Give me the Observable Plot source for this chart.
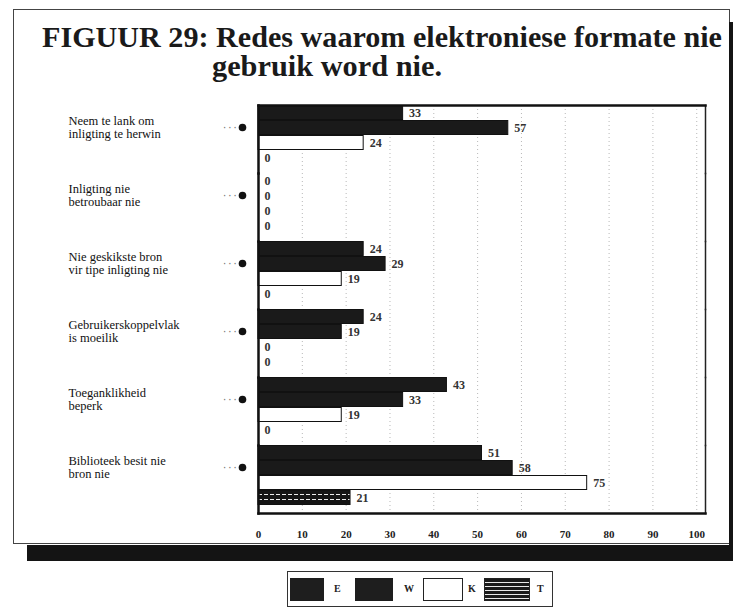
<!DOCTYPE html>
<html>
<head>
<meta charset="utf-8">
<script src="https://cdn.jsdelivr.net/npm/d3@7"></script>
<script src="https://cdn.jsdelivr.net/npm/@observablehq/plot@0.6"></script>
<style>
  html, body { margin: 0; padding: 0; background: #fff; }
  #page { position: relative; width: 733px; height: 611px; overflow: hidden; background: #fff; }
  .outer { position: absolute; left: 13px; top: 9px; width: 717px; height: 535px; border: 1.5px solid #444; box-sizing: border-box; }
  .shadow-b { position: absolute; left: 27px; top: 545px; width: 706px; height: 16px; background: #141414; }
  .shadow-r { position: absolute; left: 729px; top: 22px; width: 4px; height: 539px; background: #141414; }
  .title { position: absolute; font-family: "Liberation Serif", "Times New Roman", serif; font-weight: bold; font-size: 29px; line-height: 29px; color: #1a1a1a; white-space: nowrap; transform-origin: 0 0; }
  #chart { position: absolute; left: 0; top: 95px; }
  .legend { position: absolute; left: 287px; top: 571px; width: 266px; height: 36px; border: 1px solid #333; box-sizing: border-box; background: #fff; }
  .sw { position: absolute; top: 6px; height: 23px; box-sizing: border-box; }
  .lt { position: absolute; top: 11px; font-family: "Liberation Serif", serif; font-weight: bold; font-size: 10px; color: #222; }
</style>
</head>
<body>
<div id="page">
  <div class="outer"></div>
  <div class="shadow-b"></div>
  <div class="shadow-r"></div>
  <div class="title" id="t1" style="left:42px; top:23px;">FIGUUR 29: Redes waarom elektroniese formate nie</div>
  <div class="title" id="t2" style="left:212px; top:52px;">gebruik word nie.</div>
  <div id="chart"></div>
  <div class="legend">
    <div class="sw" style="left:2px; width:34px; background:#1e1e1e;"></div>
    <div class="lt" style="left:46px;">E</div>
    <div class="sw" style="left:67px; width:38px; background:#1e1e1e;"></div>
    <div class="lt" style="left:116px;">W</div>
    <div class="sw" style="left:135px; width:40px; background:#fff; border:1px solid #222;"></div>
    <div class="lt" style="left:180px;">K</div>
    <div class="sw" style="left:196px; width:46px; border:1px solid #222; background: repeating-linear-gradient(to bottom, #1a1a1a 0px, #1a1a1a 3px, #e8e8e8 3px, #e8e8e8 4px);"></div>
    <div class="lt" style="left:249px;">T</div>
  </div>
</div>
<script>
const categories = [
  "Neem te lank om\ninligting te herwin",
  "Inligting nie\nbetroubaar nie",
  "Nie geskikste bron\nvir tipe inligting nie",
  "Gebruikerskoppelvlak\nis moeilik",
  "Toeganklikheid\nbeperk",
  "Biblioteek besit nie\nbron nie"
];
const seriesNames = ["E", "W", "K", "T"];
const valuesE = [33, 0, 24, 24, 43, 51];
const valuesW = [57, 0, 29, 19, 33, 58];
const valuesK = [24, 0, 19, 0, 19, 75];
const valuesT = [0, 0, 0, 0, 0, 21];
const xTicks = [0, 10, 20, 30, 40, 50, 60, 70, 80, 90, 100];

const seriesValues = {E: valuesE, W: valuesW, K: valuesK, T: valuesT};
const rows = categories.flatMap((cat, i) =>
  seriesNames.map(s => ({cat, s, v: seriesValues[s][i]}))
);
const styles = {
  E: {fill: "#1a1a1a", stroke: "#111"},
  W: {fill: "#1a1a1a", stroke: "#111"},
  K: {fill: "#ffffff", stroke: "#111"},
  T: {fill: "url(#patT)", stroke: "#111"}
};

const serif = "Liberation Serif, Times New Roman, serif";

const barMarks = seriesNames.map(s =>
  Plot.barX(rows.filter(d => d.s === s && d.v > 0), {
    fy: "cat", y: "s", x: "v",
    fill: styles[s].fill, stroke: styles[s].stroke, strokeWidth: 1,
    insetTop: 0.5, insetBottom: 0.5
  })
);

const chart = Plot.plot({
  width: 733,
  height: 455,
  marginLeft: 258,
  marginRight: 28,
  marginTop: 8,
  marginBottom: 35,
  style: {background: "transparent", overflow: "visible"},
  x: {domain: [0, 102], axis: null, label: null},
  y: {domain: seriesNames, paddingInner: 0, paddingOuter: 0.25, align: 0, axis: null},
  fy: {domain: categories, padding: 0, axis: null},
  marks: [
    Plot.gridX(xTicks, {stroke: "#888", strokeOpacity: 0.6, strokeDasharray: "1,3"}),
    ...barMarks,
    Plot.text(rows, {
      fy: "cat", y: "s", x: "v", text: d => String(d.v),
      textAnchor: "start", dx: 6, fontFamily: serif, fontWeight: "bold",
      fontSize: 12, fill: "#333"
    }),
    Plot.frame({anchor: "left", stroke: "#111", strokeWidth: 2.5}),
    Plot.frame({anchor: "right", stroke: "#222", strokeWidth: 1.5}),
    Plot.frame({anchor: "top", facetAnchor: "top", stroke: "#111", strokeWidth: 2.5}),
    Plot.frame({anchor: "bottom", facetAnchor: "bottom", stroke: "#111", strokeWidth: 2.5}),
    Plot.text(categories, {
      fy: d => d, text: d => d, frameAnchor: "left", dx: -190, dy: -12,
      textAnchor: "start", lineAnchor: "middle", fontFamily: serif,
      fontSize: 12.5, fill: "#111", lineHeight: 1.05
    }),
    Plot.text(categories, {
      fy: d => d, text: () => "· · ·", frameAnchor: "left", dx: -22, dy: -12,
      textAnchor: "end", fontSize: 10, fill: "#777"
    }),
    Plot.dot(categories, {
      fy: d => d, frameAnchor: "left", dx: -16, dy: -12, r: 3.8, fill: "#111", stroke: "none"
    }),
    Plot.axisX(xTicks, {
      tickSize: 0, tickPadding: 17, fontFamily: serif, fontWeight: "bold",
      fontSize: 11, fill: "#222", tickFormat: d => String(d), label: null
    })
  ]
});

const svgNS = "http://www.w3.org/2000/svg";
const defs = document.createElementNS(svgNS, "defs");
defs.innerHTML = '<pattern id="patT" width="6" height="5" patternUnits="userSpaceOnUse">' +
  '<rect width="6" height="5" fill="#151515"/>' +
  '<rect x="0" y="2" width="4" height="1" fill="#ececec"/></pattern>';
chart.insertBefore(defs, chart.firstChild);
document.getElementById("chart").appendChild(chart);

// fit title lines to the reference widths
function fit(id, w) {
  const el = document.getElementById(id);
  const cw = el.getBoundingClientRect().width;
  if (cw > 0) el.style.transform = `scaleX(${w / cw})`;
}
fit("t1", 680);
fit("t2", 230);
</script>
</body>
</html>
